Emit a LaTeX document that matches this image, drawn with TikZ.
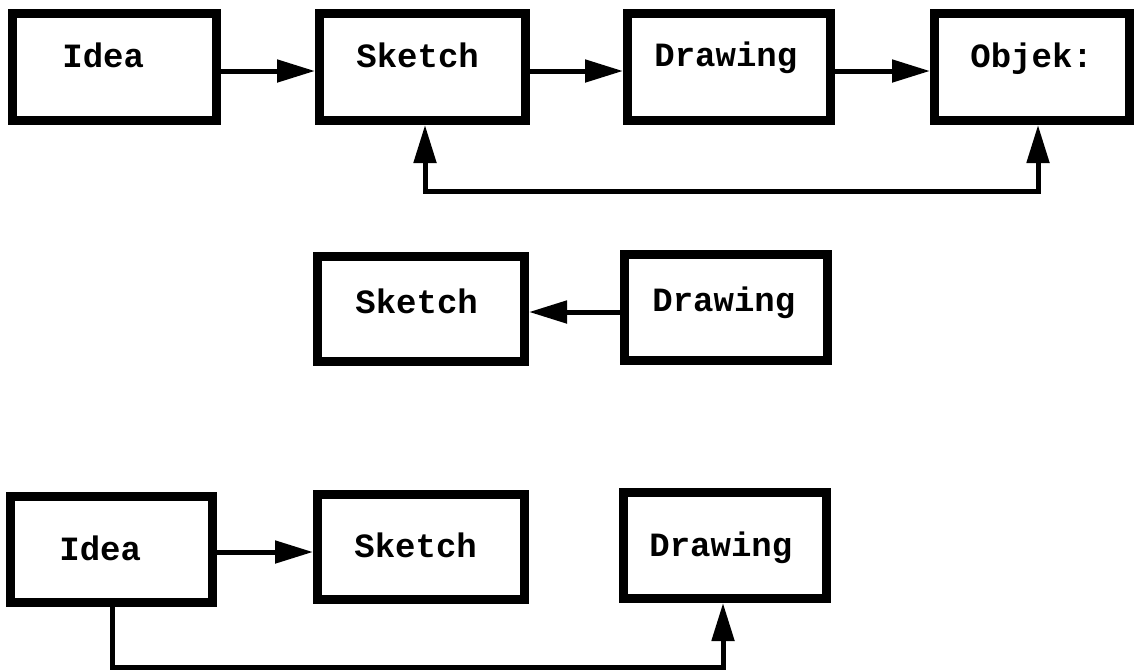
\documentclass[tikz,border=0pt]{standalone}
\usepackage{fontspec}
\setmonofont{Liberation Mono}
\usetikzlibrary{arrows.meta}

\tikzset{
  blk/.style={draw, rectangle, line width=4.5pt, inner sep=0pt},
  lbl/.style={anchor=base west, inner sep=0pt, font=\ttfamily\bfseries\fontsize{17}{17}\selectfont},
  tip/.tip={Triangle[length=19pt, width=11pt]},
  conn/.style={line width=2.5pt, -tip},
  conn2/.style={line width=2.5pt, tip-tip}
}

\begin{document}
\begin{tikzpicture}[x=0.5pt, y=-0.5pt]
\useasboundingbox (0,0) rectangle (1135,670);

% first chain: Idea -> Sketch -> Drawing -> Objek, with a feedback loop
\node[blk, minimum width=102pt,   minimum height=53.5pt] (ideaA)   at (114.5,67) {};
\node[blk, minimum width=103pt,   minimum height=53.5pt] (sketchA) at (422.5,67) {};
\node[blk, minimum width=101.5pt, minimum height=53.5pt] (drawA)   at (729,67) {};
\node[blk, minimum width=97.5pt,  minimum height=53.5pt] (objA)    at (1032,67) {};
\node[lbl] (tIdeaA)   at (62,67)  {Idea};
\node[lbl] (tSketchA) at (356,67) {Sketch};
\node[lbl] (tDrawA)   at (654,66) {Drawing};
\node[lbl] (tObjA)    at (970,67) {Objek:};

\draw[conn] (ideaA.east |- 0,71) -- (sketchA.west |- 0,71);
\draw[conn] (sketchA.east |- 0,71) -- (drawA.west |- 0,71);
\draw[conn] (drawA.east |- 0,71) -- (objA.west |- 0,71);
\coordinate (fbL) at (425,191);
\coordinate (fbR) at (1038,191);
\draw[conn2] (sketchA.south -| fbL) -- (fbL) -- (fbR) -- (objA.south -| fbR);

% second pair: Drawing back to Sketch
\node[blk, minimum width=103.5pt, minimum height=52.5pt] (sketchB) at (421,309) {};
\node[blk, minimum width=101.5pt, minimum height=53pt]   (drawB)   at (726,307.5) {};
\node[lbl] (tSketchB) at (355,313) {Sketch};
\node[lbl] (tDrawB)   at (652,311) {Drawing};
\coordinate (midB) at (0,312);
\draw[conn] (drawB.west |- midB) -- (sketchB.east |- midB);

% third group: Idea -> Sketch, Idea -> Drawing
\node[blk, minimum width=101pt,   minimum height=53pt]   (ideaC)   at (111.5,549.5) {};
\node[blk, minimum width=103.5pt, minimum height=52.5pt] (sketchC) at (421,547) {};
\node[blk, minimum width=101.5pt, minimum height=53pt]   (drawC)   at (725,545.5) {};
\node[lbl] (tIdeaC)   at (59,560)  {Idea};
\node[lbl] (tSketchC) at (354,557) {Sketch};
\node[lbl] (tDrawC)   at (649,556) {Drawing};

\draw[conn] (ideaC.east |- 0,552) -- (sketchC.west |- 0,552);
\coordinate (loopL) at (112,667);
\coordinate (loopR) at (723,667);
\draw[conn] (ideaC.south -| loopL) -- (loopL) -- (loopR) -- (drawC.south -| loopR);
\end{tikzpicture}
\end{document}
